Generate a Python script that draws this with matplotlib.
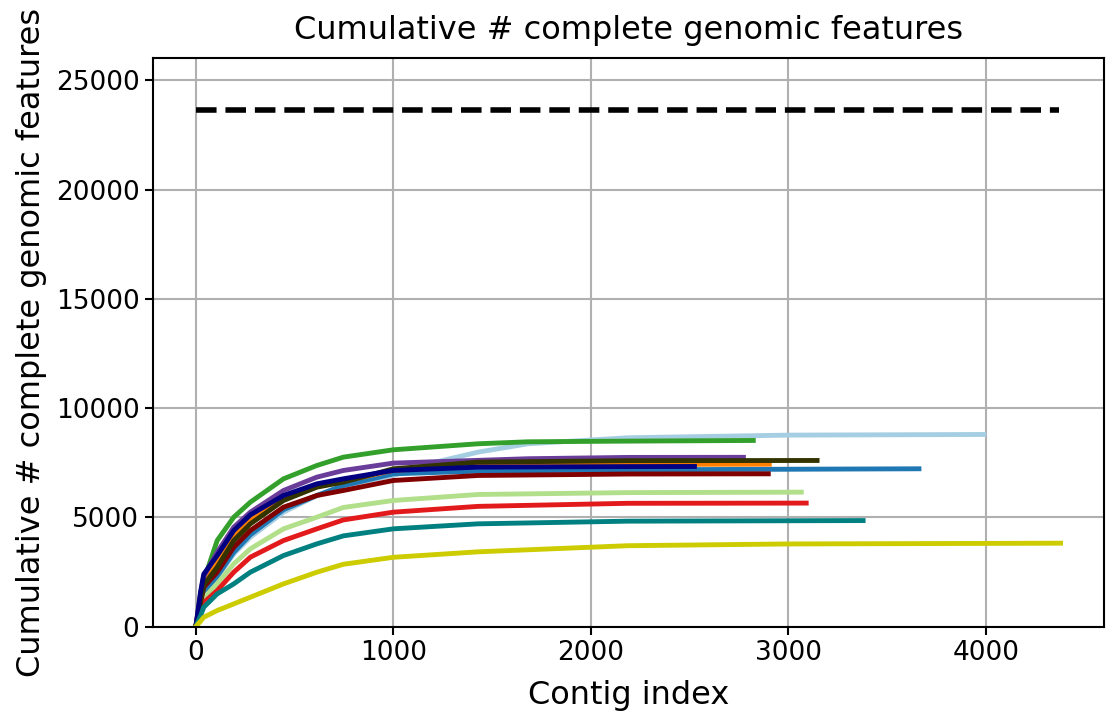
import numpy as np
import matplotlib
matplotlib.use('Agg')
import matplotlib.pyplot as plt

# points (contig index, cumulative # complete features)
early_x = [0, 24, 40, 108, 192, 276, 444, 613, 747]

green_x = early_x + [1000, 1429, 1682, 2187, 2823]
green_y = [0, 1343, 2106, 3938, 5006, 5693, 6761, 7372, 7753, 8089, 8364, 8455, 8486, 8516]
purple_x = early_x + [1000, 1682, 2187, 2773]
purple_y = [0, 1500, 2300, 3404, 4548, 5235, 6227, 6838, 7143, 7480, 7680, 7740, 7745]
navy_x = early_x + [1000, 1429, 2187, 2525]
navy_y = [0, 1600, 2400, 3251, 4396, 5113, 5998, 6532, 6761, 7143, 7296, 7320, 7325]
orange_x = early_x + [1000, 1500, 2000, 2904]
orange_y = [0, 1400, 2200, 3000, 4167, 4930, 5845, 6400, 6650, 7150, 7380, 7420, 7430]
olive_x = early_x + [1000, 1429, 2187, 3146]
olive_y = [0, 1200, 1900, 2717, 3938, 4701, 5769, 6380, 6609, 7219, 7524, 7590, 7600]
darkred_x = early_x + [1000, 1429, 2187, 2899]
darkred_y = [0, 1100, 1800, 2488, 3632, 4396, 5464, 5998, 6227, 6685, 6914, 6980, 6990]
lightblue_x = early_x + [1000, 1177, 1429, 1682, 2187, 3000, 3990]
lightblue_y = [0, 1000, 1600, 2259, 3327, 4090, 5235, 5998, 6456, 6914, 7448, 7982, 8364, 8639, 8760, 8790]
blue_x = early_x + [1000, 1429, 2187, 3662]
blue_y = [0, 1000, 1600, 2300, 3400, 4200, 5350, 6000, 6450, 6990, 7112, 7173, 7220]
lightgreen_x = early_x + [1000, 1429, 2187, 3066]
lightgreen_y = [0, 800, 1300, 1954, 2869, 3556, 4472, 5006, 5450, 5769, 6044, 6130, 6150]
red_x = early_x + [1000, 1429, 2187, 3091]
red_y = [0, 700, 1100, 1648, 2488, 3175, 3938, 4472, 4880, 5235, 5500, 5640, 5650]
teal_x = early_x + [1000, 1429, 2187, 3379]
teal_y = [0, 500, 885, 1496, 1954, 2488, 3251, 3785, 4150, 4472, 4701, 4823, 4850]
yellow_x = early_x + [1000, 1429, 2187, 3000, 4379]
yellow_y = [0, 250, 427, 733, 1038, 1343, 1954, 2488, 2850, 3170, 3420, 3700, 3780, 3815]

total_features = 23626
total_x = [0, 4370]

series = [
    (lightblue_x, lightblue_y, '#a6cee3'),
    (blue_x, blue_y, '#1f78b4'),
    (lightgreen_x, lightgreen_y, '#b2df8a'),
    (green_x, green_y, '#33a02c'),
    (red_x, red_y, '#e31a1c'),
    (orange_x, orange_y, '#ff7f00'),
    (purple_x, purple_y, '#6a3d9a'),
    (darkred_x, darkred_y, '#800000'),
    (olive_x, olive_y, '#333300'),
    (navy_x, navy_y, '#000080'),
    (teal_x, teal_y, '#008080'),
    (yellow_x, yellow_y, '#cccc00'),
]

fig, ax = plt.subplots(figsize=(11.06, 7.12), dpi=100)
for xs, ys, c in series:
    ax.plot(xs, ys, color=c, linewidth=3.5)
ax.plot(total_x, [total_features, total_features], 'k--', linewidth=4)

ax.set_ylim(0, 26000)
ax.grid(True, color='#b0b0b0', linewidth=1.5)
ax.set_axisbelow(True)
ax.tick_params(labelsize=19, width=1.5, length=6)
for s in ax.spines.values():
    s.set_linewidth(1.5)
ax.set_title('Cumulative # complete genomic features', fontsize=23, pad=14)
ax.set_xlabel('Contig index', fontsize=23, labelpad=10)
ax.set_ylabel('Cumulative # complete genomic features', fontsize=23, labelpad=6)
plt.subplots_adjust(left=0.138, right=0.998, top=0.918, bottom=0.12)
plt.savefig('out.png')
